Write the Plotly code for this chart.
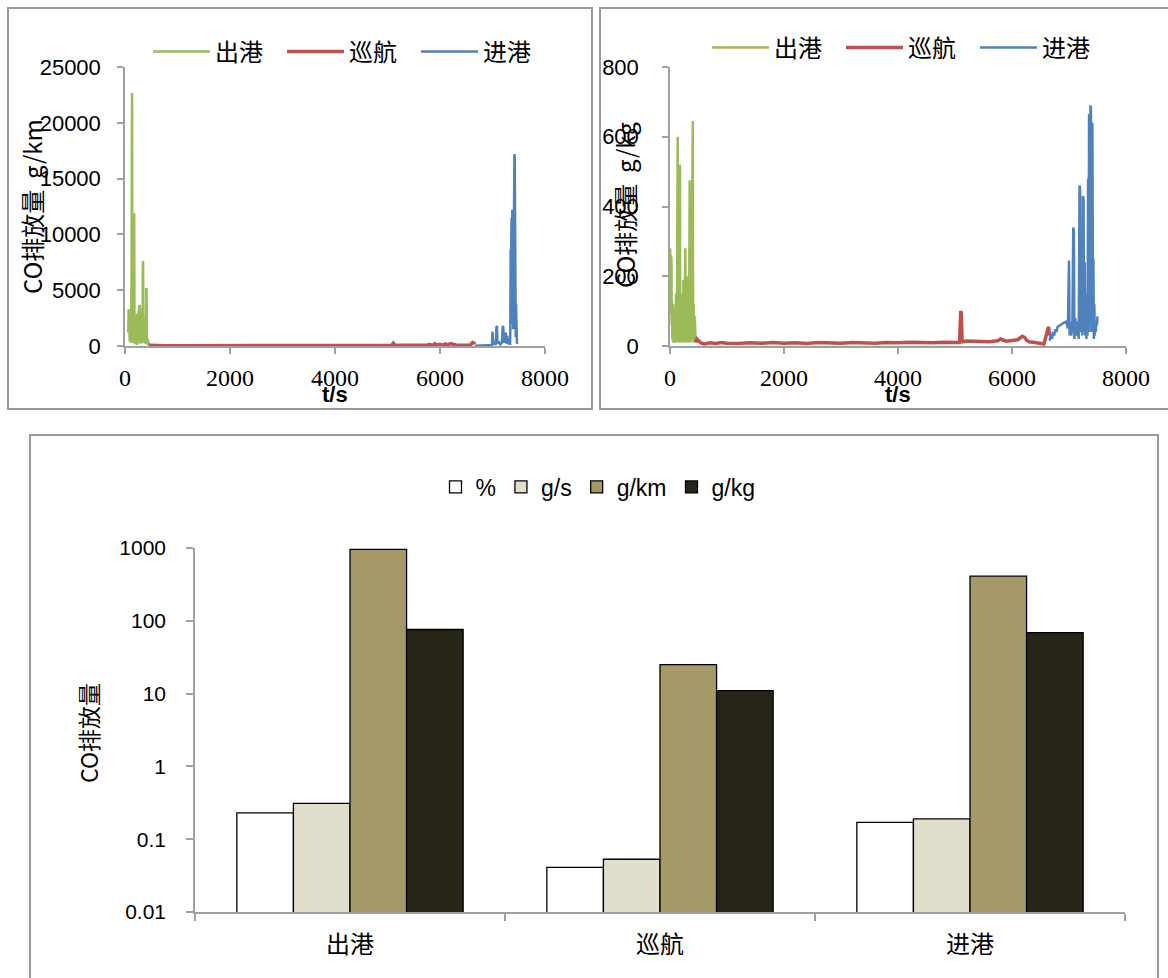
import plotly.graph_objects as go

W, H = 1168, 978

# ---------------- data: top-left (g/km) ----------------
t_out_km = [60, 70, 80, 90, 95, 100, 105, 110, 115, 120, 125, 130, 135, 140, 145, 150, 155, 160, 165, 170,
            175, 180, 185, 190, 195, 200, 205, 210, 215, 220, 225, 230, 235, 240, 245, 250, 255, 260, 265, 270,
            275, 280, 285, 290, 295, 300, 305, 310, 315, 320, 325, 330, 335, 340, 345, 350, 355, 360, 365, 370,
            375, 380, 385, 390, 395, 400, 405, 410, 415, 420, 425, 430, 435, 440, 445, 450, 455]
v_out_km = [1200, 3300, 2800, 400, 3200, 900, 2600, 300, 2900, 1800, 6000, 18000, 22700, 4000, 600, 2500, 300, 2100, 700, 11900,
            11800, 3000, 200, 2600, 500, 2400, 150, 2700, 400, 2200, 100, 2900, 600, 2300, 200, 2600, 800, 3300, 400, 3600,
            900, 3700, 300, 3500, 1100, 2800, 200, 3100, 600, 2500, 300, 3400, 1500, 7600, 7500, 2000, 300, 2600, 500, 1900,
            200, 2200, 400, 1800, 300, 2000, 5200, 5100, 900, 400, 700, 100, 600, 200, 400, 60, 30]

t_cru_km = [455, 600, 800, 1000, 1500, 2000, 2500, 3000, 3500, 4000, 4500, 5000, 5080, 5110, 5140, 5300, 5600, 5750,
            5800, 5850, 5900, 5950, 6000, 6050, 6100, 6150, 6200, 6250, 6300, 6400, 6500, 6580, 6620, 6650, 6660]
v_cru_km = [60, 30, 20, 25, 20, 25, 20, 30, 25, 30, 40, 50, 60, 250, 60, 40, 80, 60,
            150, 50, 200, 80, 150, 60, 180, 100, 220, 120, 90, 60, 80, 100, 300, 250, 150]

t_in_km = [6660, 6700, 6750, 6800, 6850, 6900, 6950, 6990, 7000, 7010, 7030, 7060, 7075, 7085, 7095, 7120, 7150,
           7180, 7195, 7205, 7220, 7240, 7255, 7265, 7280, 7300, 7320, 7335, 7340, 7346, 7352, 7358, 7364, 7370,
           7376, 7382, 7388, 7394, 7400, 7406, 7412, 7418, 7424, 7430, 7436, 7442, 7448, 7454, 7460, 7466, 7472]
v_in_km = [30, 40, 50, 60, 70, 80, 90, 100, 1300, 150, 300, 100, 1700, 1800, 200, 400, 150,
           300, 1800, 1700, 300, 1000, 1200, 200, 900, 150, 600, 100, 1500, 8700, 3000, 9500, 11500, 2000,
           12200, 6000, 11800, 1500, 10000, 4000, 15000, 17200, 16800, 3000, 12000, 800, 3800, 300, 600, 200, 300]

# ---------------- data: top-right (g/kg) ----------------
t_out_kg = [0, 5, 10, 15, 20, 25, 30, 35, 40, 45, 50, 55, 60, 65, 70, 75, 80, 85, 90, 95, 100, 105, 110, 115, 120,
            125, 130, 135, 140, 145, 150, 155, 160, 165, 170, 175, 180, 185, 190, 195, 200, 205, 210, 215, 220, 225,
            230, 235, 240, 245, 250, 255, 260, 265, 270, 275, 280, 285, 290, 295, 300, 305, 310, 315, 320, 325, 330,
            335, 340, 345, 350, 355, 360, 365, 370, 375, 380, 385, 390, 395, 400, 405, 410, 415, 420, 425, 430, 435,
            440, 445, 450]
v_out_kg = [280, 270, 90, 260, 120, 250, 60, 130, 20, 110, 15, 120, 10, 100, 12, 90, 10, 110, 20, 80, 10, 150, 30, 200, 10,
            350, 600, 600, 40, 150, 10, 130, 20, 300, 520, 515, 20, 110, 10, 140, 15, 150, 10, 120, 30, 145,
            10, 190, 20, 130, 10, 160, 40, 280, 270, 30, 150, 10, 180, 30, 200, 10, 190, 20, 150, 10, 200,
            60, 470, 475, 40, 200, 10, 170, 20, 150, 30, 250, 400, 640, 645, 100, 10, 120, 20, 80, 10, 85,
            60, 20, 15]

t_cru_kg = [450, 470, 500, 550, 600, 700, 800, 900, 1000, 1200, 1400, 1600, 1800, 2000, 2200, 2400, 2600, 2800, 3000,
            3200, 3400, 3600, 3800, 4000, 4200, 4400, 4600, 4800, 5000, 5080, 5100, 5110, 5125, 5140, 5200, 5400,
            5600, 5750, 5800, 5900, 6000, 6100, 6180, 6220, 6260, 6300, 6400, 6500, 6560, 6600, 6620, 6640, 6660]
v_cru_kg = [10, 20, 15, 8, 6, 9, 7, 10, 8, 7, 9, 8, 10, 8, 9, 7, 10, 9, 8,
            10, 9, 8, 10, 9, 11, 10, 9, 11, 12, 10, 100, 95, 15, 12, 14, 13,
            12, 15, 20, 14, 17, 18, 28, 25, 16, 12, 10, 8, 6, 30, 45, 55, 30]

t_in_kg = [6660, 6680, 6700, 6720, 6740, 6760, 6780, 6800, 6830, 6860, 6890, 6920, 6950, 6980, 7000, 7010, 7020,
           7040, 7060, 7075, 7085, 7095, 7110, 7130, 7150, 7170, 7185, 7195, 7205, 7220, 7235, 7245, 7255, 7265,
           7275, 7285, 7295, 7305, 7315, 7325, 7335, 7345, 7352, 7360, 7368, 7376, 7384, 7392, 7400, 7410, 7420,
           7428, 7436, 7444, 7452, 7460, 7470, 7480, 7490, 7500]
v_in_kg = [15, 35, 20, 40, 30, 48, 40, 55, 58, 62, 65, 68, 70, 50, 245, 30, 70,
           30, 60, 340, 330, 20, 80, 30, 70, 20, 460, 450, 40, 80, 30, 430, 420, 40,
           240, 30, 100, 20, 150, 30, 480, 40, 665, 660, 60, 690, 680, 40, 640, 640, 80,
           250, 20, 120, 30, 60, 40, 70, 60, 85]

# ---------------- data: bottom bar chart ----------------
phases = ["出港", "巡航", "进港"]
units = ["%", "g/s", "g/km", "g/kg"]
bar_pct = [0.23, 0.041, 0.17]
bar_gs = [0.31, 0.053, 0.19]
bar_gkm = [960, 25, 410]
bar_gkg = [76, 11, 69]

# tick labels
x_ticks = [0, 2000, 4000, 6000, 8000]
y_ticks_km = [0, 5000, 10000, 15000, 20000, 25000]
y_ticks_kg = [0, 200, 400, 600, 800]
y_ticks_log = [0.01, 0.1, 1, 10, 100, 1000]
y_ticktext_log = ["0.01", "0.1", "1", "10", "100", "1000"]

series_names = ["出港", "巡航", "进港"]
line_colors = ["#9BBB59", "#C0504D", "#4F81BD"]
bar_colors = ["#FFFFFF", "#E1DFCB", "#A59968", "#272418"]

CJK = "Noto Sans CJK SC"
SANS = "Liberation Sans"
SERIF = "Liberation Serif"
AX = "#A0A0A0"
NB = "\u00a0"


def px(x):
    return x / W


def py(y):
    return 1 - y / H


fig = go.Figure()

# top-left traces
for name, tt, vv, col, w in zip(series_names, [t_out_km, t_cru_km, t_in_km], [v_out_km, v_cru_km, v_in_km],
                                 line_colors, [2.5, 3.5, 2.5]):
    fig.add_trace(go.Scatter(x=tt, y=vv, mode="lines", name=name, line=dict(color=col, width=w),
                             xaxis="x", yaxis="y", legend="legend"))
# top-right traces
for name, tt, vv, col, w in zip(series_names, [t_out_kg, t_cru_kg, t_in_kg], [v_out_kg, v_cru_kg, v_in_kg],
                                 line_colors, [2.5, 3.5, 2.5]):
    fig.add_trace(go.Scatter(x=tt, y=vv, mode="lines", name=name, line=dict(color=col, width=w),
                             xaxis="x2", yaxis="y2", legend="legend2"))
# bottom bars
for name, vals, col in zip(units, [bar_pct, bar_gs, bar_gkm, bar_gkg], bar_colors):
    fig.add_trace(go.Bar(x=phases, y=vals, name=name, marker=dict(color=col, line=dict(color="#000000", width=1.3)),
                         xaxis="x3", yaxis="y3", legend="legend3"))

line_axis = dict(showline=True, linecolor=AX, linewidth=1.5, ticks="outside", tickcolor=AX, ticklen=6,
                 tickwidth=1.5, showgrid=False, zeroline=False)

fig.update_layout(
    width=W, height=H, margin=dict(l=0, r=0, t=0, b=0, autoexpand=False),
    paper_bgcolor="white", plot_bgcolor="white",
    showlegend=True,
    barmode="group", bargap=0.27, bargroupgap=0,
    xaxis=dict(domain=[px(125), px(545)], anchor="y", range=[0, 8000], tickvals=x_ticks,
               ticktext=[str(v) for v in x_ticks],
               tickfont=dict(family=SERIF, size=24, color="#000"), ticklabelstandoff=3, **line_axis),
    yaxis=dict(domain=[py(346), py(67)], anchor="x", range=[0, 25000], tickvals=y_ticks_km,
               ticktext=[str(v) for v in y_ticks_km],
               tickfont=dict(family=SANS, size=22, color="#000"), ticklabelstandoff=12, **line_axis),
    xaxis2=dict(domain=[px(670), px(1126)], anchor="y2", range=[0, 8000], tickvals=x_ticks,
                ticktext=[str(v) for v in x_ticks],
                tickfont=dict(family=SERIF, size=24, color="#000"), ticklabelstandoff=3, **line_axis),
    yaxis2=dict(domain=[py(346), py(67)], anchor="x2", range=[0, 800], tickvals=y_ticks_kg,
                ticktext=[str(v) for v in y_ticks_kg],
                tickfont=dict(family=SANS, size=22, color="#000"), ticklabelstandoff=19, **line_axis),
    xaxis3=dict(domain=[px(195), px(1125)], anchor="y3", type="category", tickson="boundaries",
                showline=True, linecolor=AX, linewidth=1.5, ticks="outside", tickcolor=AX, ticklen=7, tickwidth=1.5,
                tickfont=dict(family=CJK, size=24, color="#000"), ticklabelstandoff=10, showgrid=False),
    yaxis3=dict(domain=[py(912), py(548)], anchor="x3", type="log", range=[-2, 3],
                tickvals=y_ticks_log, ticktext=y_ticktext_log,
                showline=True, linecolor=AX, linewidth=1.5, ticks="outside", tickcolor=AX, ticklen=7, tickwidth=1.5,
                tickfont=dict(family=SANS, size=21, color="#000"), ticklabelstandoff=16, showgrid=False,
                zeroline=False),
    legend=dict(orientation="h", x=px(148), y=py(52), xanchor="left", yanchor="middle",
                font=dict(family=CJK, size=24, color="#000"), bgcolor="rgba(0,0,0,0)", itemwidth=57,
                entrywidth=62),
    legend2=dict(orientation="h", x=px(707), y=py(48), xanchor="left", yanchor="middle",
                 font=dict(family=CJK, size=24, color="#000"), bgcolor="rgba(0,0,0,0)", itemwidth=57,
                 entrywidth=62),
    legend3=dict(orientation="h", x=px(598), y=py(487), xanchor="center", yanchor="middle",
                 font=dict(family=SANS, size=23, color="#000"), bgcolor="rgba(0,0,0,0)", itemwidth=30),
)

# panel borders
for (x0, y0, x1, y1) in [(8, 8, 592, 409), (600, 8, 1175, 409), (30, 435, 1158, 990)]:
    fig.add_shape(type="rect", xref="paper", yref="paper", x0=px(x0), x1=px(x1), y0=py(y1), y1=py(y0),
                  line=dict(color="#9A9A9A", width=2), fillcolor="rgba(0,0,0,0)", layer="below")

# axis titles
ann_common = dict(xref="paper", yref="paper", showarrow=False, xanchor="center", yanchor="middle")
fig.add_annotation(text="CO排放量" + NB + NB + "g/km", x=px(31), y=py(207), textangle=-90,
                   font=dict(family=CJK, size=24, color="#000"), **ann_common)
fig.add_annotation(text="CO排放量" + NB + NB + "g/kg", x=px(624), y=py(205), textangle=-90,
                   font=dict(family=CJK, size=24, color="#000"), **ann_common)
fig.add_annotation(text="<b>t/s</b>", x=px(335), y=py(394), font=dict(family=SANS, size=22, color="#000"),
                   **ann_common)
fig.add_annotation(text="<b>t/s</b>", x=px(898), y=py(394), font=dict(family=SANS, size=22, color="#000"),
                   **ann_common)
fig.add_annotation(text="CO排放量", x=px(88), y=py(733), textangle=-90,
                   font=dict(family=CJK, size=23, color="#000"), **ann_common)

fig.write_html("out.html")
